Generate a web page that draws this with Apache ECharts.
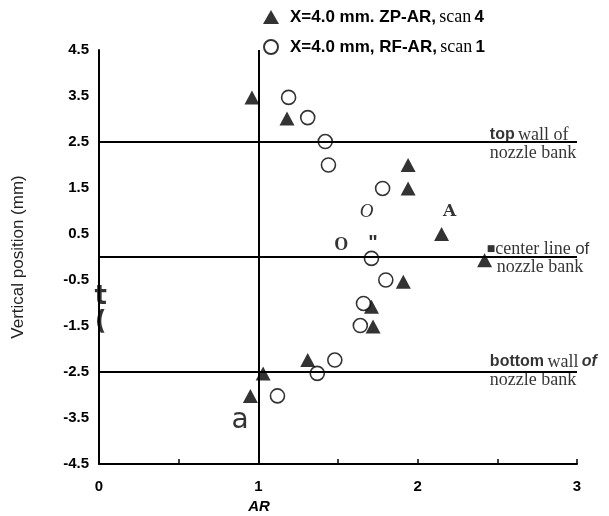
<!DOCTYPE html>
<html>
<head>
<meta charset="utf-8">
<title>AR vertical profile</title>
<script src="https://cdn.jsdelivr.net/npm/echarts@6/dist/echarts.min.js"></script>
<style>
html, body { margin: 0; padding: 0; background: #fff; }
#chart { width: 609px; height: 516px; }
</style>
</head>
<body>
<div id="chart"></div>
<script>
// [AR, vertical position (mm)]
const zpScan4 = [
  [0.96, 3.47], [1.18, 3.01], [1.94, 2.0], [1.94, 1.49], [2.15, 0.5],
  [2.42, -0.07], [1.91, -0.54], [1.71, -1.08], [1.72, -1.51],
  [1.31, -2.24], [1.03, -2.53], [0.95, -3.02]
]
const rfScan1 = [
  [1.19, 3.47], [1.31, 3.03], [1.42, 2.51], [1.44, 2.0], [1.78, 1.49],
  [1.71, -0.03], [1.8, -0.5], [1.66, -1.01], [1.64, -1.49],
  [1.48, -2.24], [1.37, -2.53], [1.12, -3.02]
]
const seriesNames = ['X=4.0 mm. ZP-AR, scan 4', 'X=4.0 mm, RF-AR, scan 1']
const legendText = {
  'X=4.0 mm. ZP-AR, scan 4': '{g|}{b|X=4.0 mm. ZP-AR,} {s|scan} {b|4}',
  'X=4.0 mm, RF-AR, scan 1': '{g|}{b|X=4.0 mm, RF-AR,} {s|scan} {b|1}'
}
// nozzle bank walls and centre line, plus the AR = 1 reference
const wallLevels = [2.5, 0, -2.5]
const refAR = [1]
const xTickLabels = [0, 1, 2, 3]
const yTickLabels = [-4.5, -3.5, -2.5, -1.5, -0.5, 0.5, 1.5, 2.5, 3.5, 4.5]

// notes: [AR, position, text]
const wallNotes = [
  [2.45, 2.46, '{b|top} {s|wall of}\n{s|nozzle bank}'],
  [2.43, -0.02, '{sq|■}{s|center line }{sa|of}\n{ind|nozzle bank}'],
  [2.45, -2.48, '{b|bottom} {s|wall} {bi|of}\n{s|nozzle bank}']
]
const strayMarks = [
  [1.68, 0.98, '{oi|O}'],
  [2.2, 0.98, '{ab|A}'],
  [1.52, 0.26, '{ob|O}'],
  [1.72, 0.3, '{q|"}'],
  [0.885, -3.55, '{a|a}'],
  [0.01, -0.87, '{t|t}'],
  [0.01, -1.41, '{t|(}']
]

const chart = echarts.init(document.getElementById('chart'))

const sans = 'Liberation Sans, Arial, sans-serif'
const serif = 'Liberation Serif, Times New Roman, serif'
const noteRich = {
  b: { fontFamily: sans, fontWeight: 'bold', fontSize: 16, color: '#000', lineHeight: 18 },
  s: { fontFamily: serif, fontSize: 18, color: '#000', lineHeight: 18 },
  sa: { fontFamily: sans, fontSize: 17, color: '#000', lineHeight: 18 },
  bi: { fontFamily: sans, fontWeight: 'bold', fontStyle: 'italic', fontSize: 16, color: '#000', lineHeight: 18 },
  sq: { fontFamily: 'DejaVu Sans', fontSize: 9, color: '#000', lineHeight: 18 },
  ind: { fontFamily: serif, fontSize: 18, color: '#000', lineHeight: 18, padding: [0, 0, 0, 10] },
  oi: { fontFamily: serif, fontStyle: 'italic', fontSize: 19, color: '#000' },
  ob: { fontFamily: serif, fontWeight: 'bold', fontSize: 18, color: '#000' },
  ab: { fontFamily: 'DejaVu Serif', fontWeight: 'bold', fontSize: 17, color: '#000' },
  q: { fontFamily: sans, fontWeight: 'bold', fontSize: 20, color: '#000' },
  a: { fontFamily: 'DejaVu Sans', fontSize: 28, color: '#000' },
  t: { fontFamily: 'DejaVu Sans', fontWeight: 'bold', fontSize: 26, color: '#000' }
}

const option = {
  backgroundColor: '#fff',
  animation: false,
  legend: {
    orient: 'vertical',
    left: 258,
    top: 3,
    itemWidth: 16,
    itemHeight: 14,
    itemGap: 12,
    data: seriesNames,
    formatter: name => legendText[name],
    textStyle: {
      rich: {
        g: { width: 6 },
        b: { fontFamily: sans, fontWeight: 'bold', fontSize: 17, color: '#000', lineHeight: 18 },
        s: { fontFamily: serif, fontSize: 18, color: '#000', lineHeight: 18 }
      }
    }
  },
  grid: { left: 99, right: 32, top: 50, bottom: 52, outerBoundsMode: 'none' },
  xAxis: {
    type: 'value',
    min: 0,
    max: 3,
    interval: 0.5,
    name: 'AR',
    nameLocation: 'middle',
    nameGap: 30,
    nameTextStyle: { fontFamily: sans, fontWeight: 'bold', fontStyle: 'italic', fontSize: 15, color: '#000', padding: [0, 158, 0, 0] },
    axisLine: { onZero: false, lineStyle: { color: '#000', width: 2 } },
    axisTick: { inside: true, length: 5, lineStyle: { color: '#000', width: 1.5 } },
    axisLabel: {
      margin: 15,
      fontFamily: sans, fontWeight: 'bold', fontSize: 15, color: '#000',
      formatter: v => (xTickLabels.includes(v) ? String(v) : '')
    },
    splitLine: { show: false }
  },
  yAxis: {
    type: 'value',
    min: -4.5,
    max: 4.5,
    interval: 0.5,
    name: 'Vertical position (mm)',
    nameLocation: 'middle',
    nameRotate: 90,
    nameGap: 72,
    nameTextStyle: { fontFamily: sans, fontSize: 17, color: '#222' },
    axisLine: { onZero: false, lineStyle: { color: '#000', width: 2 } },
    axisTick: { show: false },
    axisLabel: {
      margin: 10,
      fontFamily: sans, fontWeight: 'bold', fontSize: 15, color: '#000',
      formatter: v => (yTickLabels.includes(v) ? v.toFixed(1) : '')
    },
    splitLine: { show: false }
  },
  series: [
    {
      name: 'refs',
      type: 'line',
      data: [],
      silent: true,
      z: 1,
      markLine: {
        silent: true,
        symbol: ['none', 'none'],
        label: { show: false },
        lineStyle: { color: '#000', width: 2, type: 'solid' },
        data: [
          ...wallLevels.map(v => ({ yAxis: v })),
          ...refAR.map(v => ({ xAxis: v }))
        ]
      }
    },
    {
      name: seriesNames[0],
      type: 'scatter',
      symbol: 'triangle',
      symbolSize: [15, 14],
      itemStyle: { color: '#000' },
      data: zpScan4,
      z: 2
    },
    {
      name: seriesNames[1],
      type: 'scatter',
      symbol: 'circle',
      symbolSize: 14,
      itemStyle: { color: '#fff', borderColor: '#000', borderWidth: 1.6 },
      data: rfScan1,
      z: 3
    },
    {
      name: 'wall notes',
      type: 'scatter',
      symbolSize: 1,
      itemStyle: { color: 'transparent' },
      silent: true,
      z: 4,
      data: wallNotes.map(d => ({ value: [d[0], d[1]], name: d[2] })),
      label: {
        show: true,
        position: 'right',
        distance: 0,
        align: 'left',
        formatter: p => p.name,
        rich: noteRich
      }
    },
    {
      name: 'stray marks',
      type: 'scatter',
      symbolSize: 1,
      itemStyle: { color: 'transparent' },
      silent: true,
      z: 4,
      data: strayMarks.map(d => ({ value: [d[0], d[1]], name: d[2] })),
      label: {
        show: true,
        position: 'inside',
        formatter: p => p.name,
        rich: noteRich
      }
    }
  ]
}

chart.setOption(option)
window.addEventListener('resize', () => chart.resize())
</script>
</body>
</html>
